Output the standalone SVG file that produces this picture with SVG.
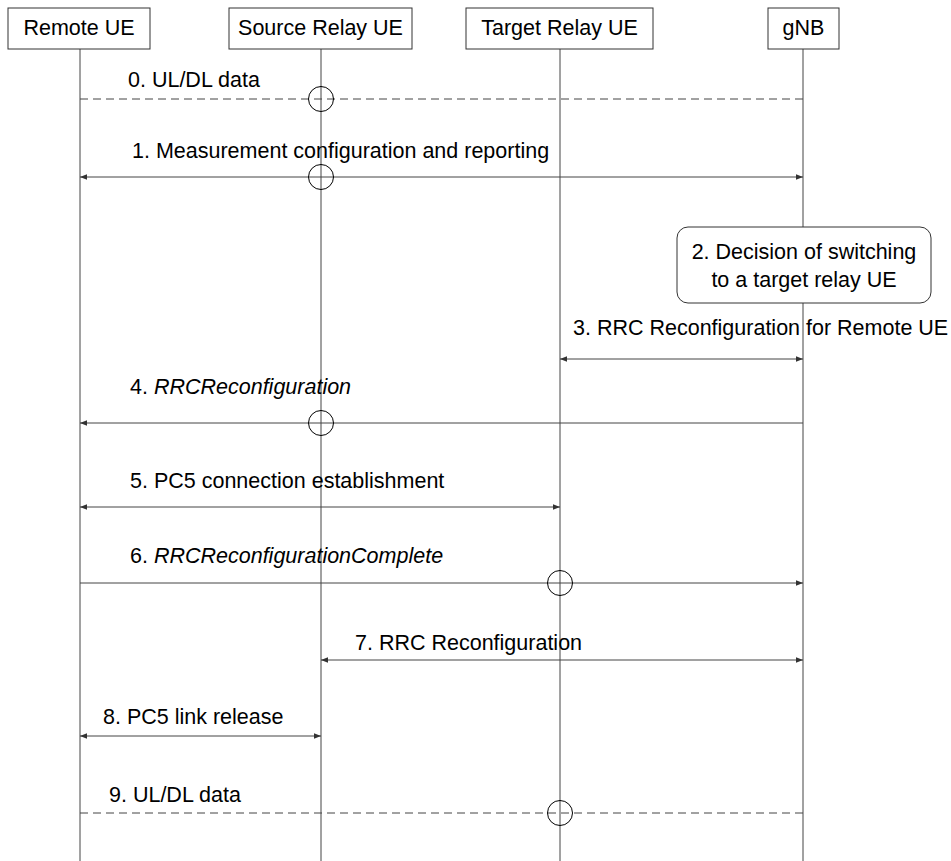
<svg xmlns="http://www.w3.org/2000/svg" width="951" height="861" viewBox="0 0 951 861">
<style>
text{font-family:"Liberation Sans",Arial,sans-serif;font-size:21.5px;fill:#000}
.box{fill:#fff;stroke:#333;stroke-width:1}
.life{stroke:#444;stroke-width:1;fill:none}
.msg{stroke:#444;stroke-width:1;fill:none}
.dash{stroke:#444;stroke-width:1;fill:none;stroke-dasharray:8 5}
.x{fill:none;stroke:#000;stroke-width:1}
.c{text-anchor:middle}
</style>
<defs>
<marker id="ah" viewBox="0 0 10 10" refX="10" refY="5" markerWidth="9" markerHeight="7" markerUnits="userSpaceOnUse" orient="auto-start-reverse">
<path d="M0,1 L10,5 L0,9 z" fill="#333"/>
</marker>
</defs>
<g id="lifelines">
<line class="life" x1="80" y1="49" x2="80" y2="861"/>
<line class="life" x1="321" y1="49" x2="321" y2="861"/>
<line class="life" x1="560" y1="49" x2="560" y2="861"/>
<line class="life" x1="803" y1="49" x2="803" y2="861"/>
</g>
<g id="remote-ue"><rect class="box" x="8" y="8" width="142" height="41"/><text class="c" x="79" y="35">Remote UE</text></g>
<g id="source-relay-ue"><rect class="box" x="229" y="8" width="183" height="41"/><text class="c" x="320.5" y="35">Source Relay UE</text></g>
<g id="target-relay-ue"><rect class="box" x="466" y="8" width="187" height="41"/><text class="c" x="559.5" y="35">Target Relay UE</text></g>
<g id="gnb"><rect class="box" x="768" y="8" width="71" height="41"/><text class="c" x="803.5" y="35">gNB</text></g>
<g id="decision"><rect class="box" x="677" y="227" width="254" height="76" rx="11"/><text class="c" x="804" y="259">2. Decision of switching</text><text class="c" x="804" y="287">to a target relay UE</text></g>
<g id="connectors">
<line class="dash" x1="80" y1="99" x2="803" y2="99"/>
<circle class="x" cx="321" cy="99" r="12.5"/>
<text x="128" y="87">0. UL/DL data</text>

<line class="msg" x1="80" y1="177" x2="803" y2="177" marker-start="url(#ah)" marker-end="url(#ah)"/>
<circle class="x" cx="321" cy="177" r="12.5"/>
<text x="132" y="158">1. Measurement configuration and reporting</text>

<line class="msg" x1="560" y1="359" x2="803" y2="359" marker-start="url(#ah)" marker-end="url(#ah)"/>
<text x="573" y="335">3. RRC Reconfiguration for Remote UE</text>

<line class="msg" x1="803" y1="423" x2="80" y2="423" marker-end="url(#ah)"/>
<circle class="x" cx="321" cy="423" r="12.5"/>
<text x="130" y="394">4. <tspan font-style="italic">RRCReconfiguration</tspan></text>

<line class="msg" x1="80" y1="507" x2="560" y2="507" marker-start="url(#ah)" marker-end="url(#ah)"/>
<text x="130" y="488">5. PC5 connection establishment</text>

<line class="msg" x1="80" y1="583" x2="803" y2="583" marker-end="url(#ah)"/>
<circle class="x" cx="560" cy="583" r="12.5"/>
<text x="130" y="563">6. <tspan font-style="italic">RRCReconfigurationComplete</tspan></text>

<line class="msg" x1="321" y1="660" x2="803" y2="660" marker-start="url(#ah)" marker-end="url(#ah)"/>
<text x="355" y="650">7. RRC Reconfiguration</text>

<line class="msg" x1="80" y1="736" x2="321" y2="736" marker-start="url(#ah)" marker-end="url(#ah)"/>
<text x="103" y="724">8. PC5 link release</text>

<line class="dash" x1="80" y1="813" x2="803" y2="813"/>
<circle class="x" cx="560" cy="813" r="12.5"/>
<text x="109" y="802">9. UL/DL data</text>
</g>
</svg>
